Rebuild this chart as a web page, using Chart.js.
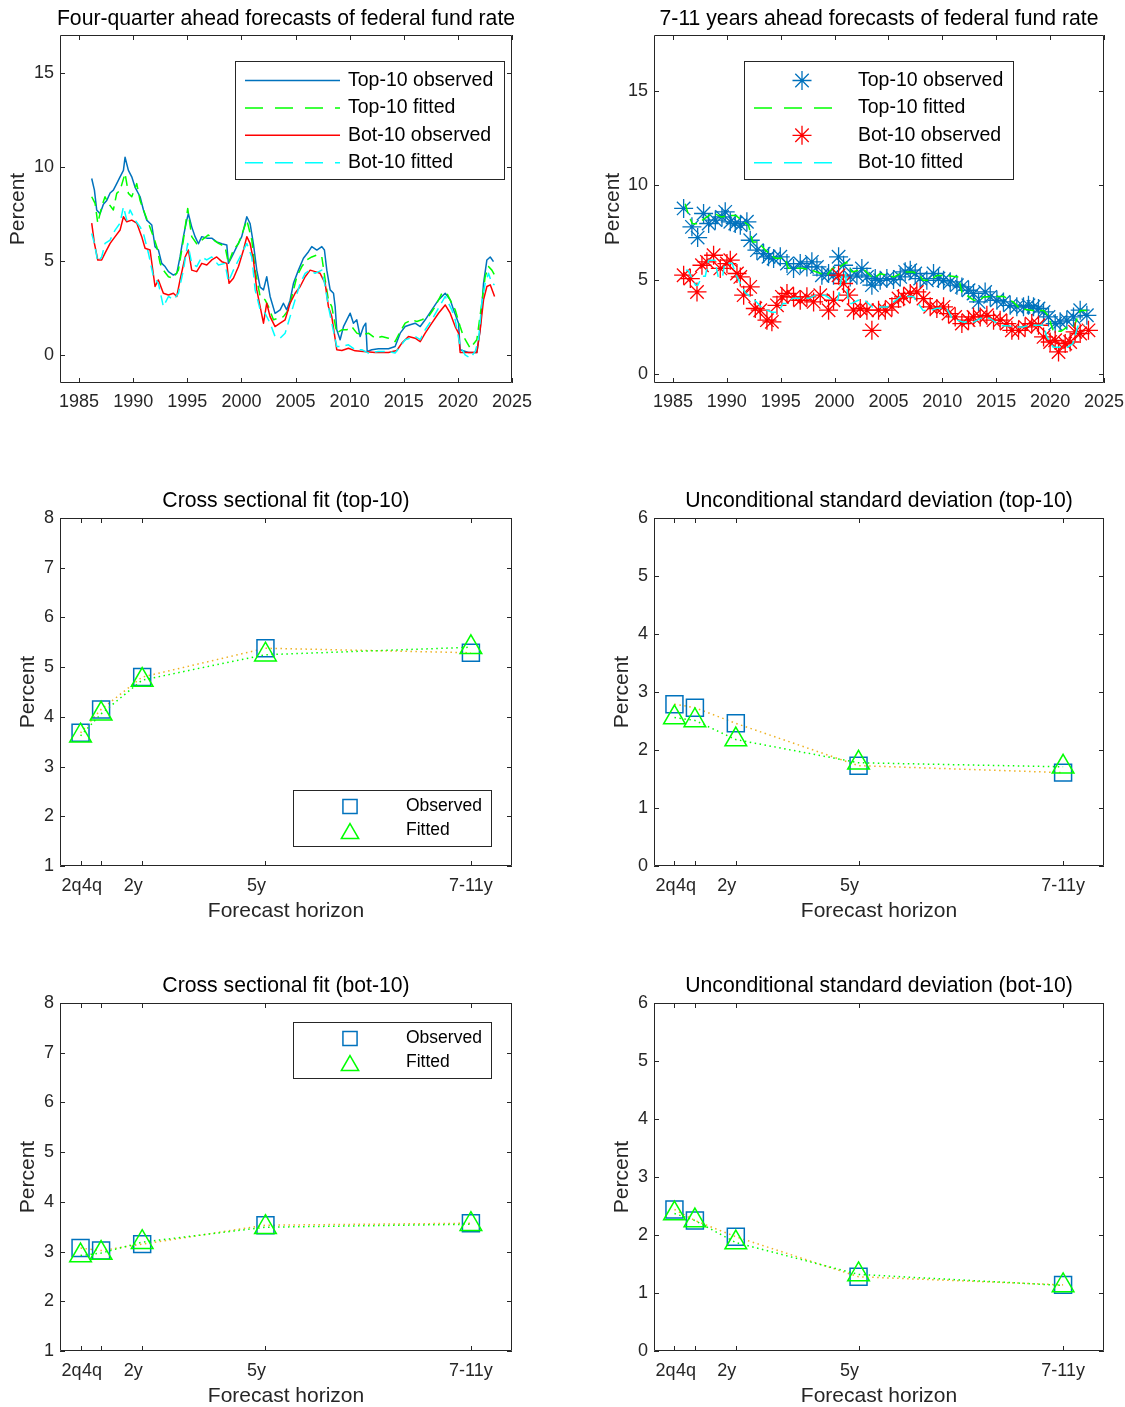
<!DOCTYPE html>
<html>
<head>
<meta charset="utf-8">
<title>Federal fund rate forecasts: top-10 vs bottom-10</title>
<script src="https://cdn.jsdelivr.net/npm/chart.js@4.4.1/dist/chart.umd.min.js"></script>
<style>
  html, body { margin: 0; background: #fff; overflow: hidden; }
  canvas { position: absolute; }
</style>
</head>
<body>
<canvas id="c1"></canvas>
<canvas id="c2"></canvas>
<canvas id="c3"></canvas>
<canvas id="c4"></canvas>
<canvas id="c5"></canvas>
<canvas id="c6"></canvas>
<script>
// ---- four-quarter ahead forecasts (percent) ----
const q4Top10ObsYear = [1986.17,1986.42,1986.63,1986.94,1987.25,1987.56,1987.87,1988.17,1988.48,1988.79,1989.10,1989.25,1989.56,1989.87,1990.18,1990.64,1990.95,1991.25,1991.72,1992.02,1992.33,1992.64,1992.95,1993.26,1993.72,1994.03,1994.33,1994.64,1994.95,1995.10,1995.41,1995.72,1996.03,1996.34,1996.80,1997.26,1997.72,1998.19,1998.65,1998.80,1999.11,1999.57,2000.03,2000.50,2000.80,2001.11,2001.42,2001.73,2002.04,2002.34,2002.65,2003.11,2003.58,2003.88,2004.19,2004.50,2004.81,2005.27,2005.73,2006.20,2006.50,2006.97,2007.43,2007.67,2007.89,2008.20,2008.51,2008.66,2008.81,2009.12,2009.43,2009.74,2010.05,2010.35,2010.66,2010.97,2011.28,2011.49,2011.62,2012.05,2012.66,2013.59,2014.20,2014.67,2015.13,2015.59,2016.05,2016.52,2016.98,2017.59,2018.21,2018.83,2019.29,2019.60,2020.06,2020.21,2020.98,2021.75,2022.06,2022.37,2022.68,2022.99,2023.29];
const q4Top10ObsRate = [9.37,8.75,7.7,7.5,8.0,8.2,8.6,8.75,9.1,9.46,9.8,10.5,9.8,9.46,8.9,8.4,7.7,7.16,6.9,5.75,5.57,4.86,4.69,4.42,4.24,4.33,5.2,6.28,7.16,7.5,6.8,6.28,5.9,6.28,6.2,6.2,6.0,5.9,5.84,4.86,5.2,5.75,6.28,7.34,6.98,5.9,4.5,3.6,3.45,4.15,3.1,2.2,2.39,2.74,2.39,2.9,3.8,4.5,5.13,5.48,5.75,5.57,5.75,5.57,4.5,3.45,3.27,2.56,1.33,0.8,1.5,1.86,2.21,1.68,1.86,0.97,1.5,1.68,0.18,0.27,0.32,0.32,0.44,1.15,1.5,1.6,1.68,1.5,1.86,2.39,2.92,3.27,2.92,2.39,1.68,0.27,0.12,0.12,1.33,3.8,5.04,5.2,4.95];

const q4Top10FitYear = [1986.17,1986.48,1986.73,1987.09,1987.40,1987.71,1988.17,1988.48,1988.79,1989.25,1989.56,1989.87,1990.33,1990.64,1990.95,1991.41,1991.87,1992.18,1992.49,1992.79,1993.26,1993.72,1994.18,1994.64,1995.04,1995.41,1995.87,1996.34,1996.95,1997.42,1997.88,1998.49,1998.80,1999.26,1999.73,2000.19,2000.50,2000.96,2001.27,2001.73,2002.19,2002.50,2002.96,2003.42,2003.88,2004.35,2004.66,2005.12,2005.58,2006.04,2006.50,2006.97,2007.43,2007.74,2008.04,2008.35,2008.81,2009.28,2009.74,2010.20,2010.66,2011.12,2011.74,2012.36,2012.97,2013.59,2014.20,2014.67,2015.13,2015.75,2016.21,2016.67,2017.29,2017.90,2018.52,2018.98,2019.44,2019.75,2020.21,2020.52,2021.14,2021.75,2022.21,2022.52,2022.83,2023.14,2023.39];
const q4Top10FitRate = [8.4,8.05,7.0,7.87,8.4,8.05,7.7,8.58,8.75,9.64,8.58,8.4,9.1,8.2,7.7,7.0,6.28,5.75,4.86,4.5,4.15,4.07,4.5,6.1,7.78,6.28,5.9,6.1,6.37,6.1,5.92,5.75,4.86,5.57,5.92,6.63,7.16,6.1,4.5,3.1,2.92,2.56,1.86,1.95,2.03,2.39,3.1,4.15,4.69,5.04,5.2,5.3,5.2,3.98,2.92,2.56,1.15,1.33,1.33,1.5,1.15,1.06,1.15,0.88,0.97,0.88,0.7,1.24,1.68,1.86,1.77,1.86,2.03,2.56,3.27,3.27,2.74,2.39,1.5,0.97,0.35,0.8,2.74,4.15,4.69,4.5,4.24];

const q4Bot10ObsYear = [1986.17,1986.42,1986.73,1987.09,1987.40,1987.87,1988.33,1988.79,1989.10,1989.41,1989.87,1990.33,1990.79,1991.10,1991.56,1992.02,1992.33,1992.79,1993.26,1993.72,1994.03,1994.33,1994.80,1995.10,1995.41,1995.87,1996.34,1996.80,1997.26,1997.72,1998.19,1998.65,1998.86,1999.26,1999.73,2000.19,2000.50,2000.80,2001.11,2001.42,2001.73,2002.04,2002.34,2002.65,2003.11,2003.58,2004.04,2004.50,2004.96,2005.43,2005.89,2006.35,2006.81,2007.27,2007.74,2008.04,2008.35,2008.81,2009.28,2009.89,2010.51,2011.28,2012.36,2013.59,2014.36,2014.82,2015.44,2016.05,2016.52,2016.98,2017.59,2018.21,2018.83,2019.29,2019.75,2020.06,2020.21,2021.75,2022.06,2022.37,2022.68,2022.99,2023.39];
const q4Bot10ObsRate = [7.0,5.92,5.04,5.04,5.4,5.92,6.28,6.63,7.34,7.07,7.16,7.0,6.28,5.66,5.57,3.63,3.98,3.27,3.18,3.27,3.1,3.98,5.2,5.57,4.5,4.42,4.86,4.77,5.04,5.2,4.95,4.86,3.8,4.07,4.69,5.57,6.28,5.92,5.04,3.45,2.56,1.68,2.74,2.03,1.5,1.68,1.86,2.74,3.27,3.63,4.15,4.5,4.42,4.33,3.8,2.56,2.03,0.27,0.23,0.35,0.21,0.18,0.12,0.12,0.23,0.62,0.97,0.88,0.7,1.15,1.68,2.21,2.65,2.21,1.5,1.15,0.12,0.12,1.33,2.92,3.63,3.72,3.1];

const q4Bot10FitYear = [1986.17,1986.42,1986.73,1987.09,1987.40,1987.87,1988.33,1988.79,1989.10,1989.41,1989.71,1990.18,1990.64,1990.95,1991.41,1991.87,1992.33,1992.79,1993.26,1993.72,1994.18,1994.64,1995.04,1995.41,1995.87,1996.34,1996.80,1997.26,1997.88,1998.49,1998.80,1999.26,1999.73,2000.19,2000.50,2000.96,2001.27,2001.73,2002.19,2002.65,2003.11,2003.58,2004.04,2004.50,2004.96,2005.43,2005.89,2006.35,2006.81,2007.43,2007.74,2008.04,2008.35,2008.81,2009.28,2009.89,2010.51,2011.12,2011.74,2012.66,2013.59,2014.20,2014.67,2015.13,2015.59,2016.05,2016.52,2016.98,2017.59,2018.21,2018.83,2019.44,2019.75,2020.21,2020.67,2021.14,2021.60,2021.91,2022.21,2022.52,2022.83,2023.14,2023.39];
const q4Bot10FitRate = [6.45,5.92,4.95,5.2,5.92,6.1,6.63,7.0,7.87,7.16,7.7,7.16,6.8,6.45,5.4,4.15,3.8,2.56,3.1,2.92,3.27,4.5,5.92,4.86,4.69,5.2,5.04,5.2,4.77,4.86,3.89,4.5,5.04,5.57,5.92,5.2,3.45,2.39,2.21,1.68,0.97,0.88,1.15,2.03,2.92,3.8,4.33,4.5,4.33,4.5,3.63,2.56,1.68,0.44,0.44,0.53,0.27,0.27,0.09,0.18,0.18,0.09,0.44,0.8,0.88,0.97,0.8,1.33,1.86,2.48,3.1,2.39,1.86,0.44,0.0,-0.18,0.18,0.8,2.74,3.8,4.33,3.8,3.72];

// ---- 7-11 years ahead forecasts (percent) ----
const lrTop10ObsYear = [1985.99,1986.76,1987.29,1987.84,1988.31,1988.93,1989.55,1989.85,1990.32,1990.78,1991.25,1991.86,1992.17,1992.79,1993.41,1993.87,1994.34,1994.96,1995.58,1996.19,1996.81,1997.43,1997.89,1998.36,1998.82,1999.44,1999.90,2000.37,2000.83,2001.45,2002.07,2002.53,2003.00,2003.46,2003.77,2004.23,2004.85,2005.47,2006.09,2006.55,2007.02,2007.48,2007.94,2008.56,2009.18,2009.64,2010.11,2010.73,2011.35,2011.81,2012.43,2012.89,2013.36,2013.97,2014.44,2015.06,2015.67,2016.29,2016.91,2017.53,2017.99,2018.46,2018.92,2019.39,2019.85,2020.47,2020.93,2021.55,2022.17,2022.79,2023.41];
const lrTop10ObsRate = [8.78,7.80,7.23,8.51,7.98,8.16,8.33,8.60,8.07,7.98,7.89,8.07,7.09,6.56,6.38,6.21,6.12,6.21,5.85,5.59,5.85,5.67,5.94,5.67,5.23,5.32,5.23,6.21,5.76,5.14,5.23,5.59,5.14,4.70,5.05,4.96,5.05,5.00,5.14,5.41,5.50,5.32,5.05,4.96,5.32,5.05,4.96,4.88,4.70,4.61,4.43,4.26,3.81,4.34,4.08,3.90,3.81,3.63,3.55,3.55,3.63,3.55,3.46,3.28,3.01,2.66,2.75,2.84,3.01,3.37,3.10];

const lrTop10FitYear = [1986.14,1986.45,1986.8,1987.3,1987.7,1988.6,1988.9,1989.5,1990.1,1990.8,1991.4,1992.0,1992.4,1992.9,1993.6,1994.5,1995.4,1995.7,1997.0,1997.9,1998.7,1999.3,1999.8,2000.3,2001.1,2001.6,2002.2,2002.8,2003.6,2004.2,2004.9,2005.5,2006.4,2007.3,2007.9,2008.2,2008.9,2009.5,2010.4,2011.5,2011.8,2012.9,2013.5,2013.8,2014.7,2015.7,2016.6,2017.2,2018.4,2019.4,2019.8,2020.3,2021.0,2021.6,2022.2,2022.8,2023.4];
const lrTop10FitRate = [9.03,8.41,7.97,7.97,8.15,8.5,8.5,8.32,8.41,8.41,8.15,7.9,7.0,7.0,6.55,6.13,6.13,5.6,5.6,5.49,5.32,5.23,5.6,5.6,5.93,5.4,5.49,5.49,5.05,5.31,5.23,5.14,5.4,5.4,5.23,4.96,4.96,5.22,5.22,5.13,4.34,3.9,3.9,4.07,4.1,4.1,3.8,3.45,3.36,3.36,3.1,2.25,2.25,2.48,2.48,3.36,3.36];

const lrBot10ObsYear = [1985.99,1986.61,1987.23,1987.69,1988.15,1988.77,1989.39,1990.01,1990.32,1990.94,1991.25,1991.56,1992.17,1992.64,1993.10,1993.72,1994.18,1994.65,1995.11,1995.58,1996.19,1996.81,1997.43,1998.05,1998.67,1999.44,1999.90,2000.37,2000.83,2001.30,2001.76,2002.38,2003.00,2003.46,2004.08,2004.70,2005.32,2005.93,2006.40,2007.02,2007.63,2008.25,2008.87,2009.49,2010.11,2010.57,2011.19,2011.81,2012.43,2012.89,2013.51,2014.13,2014.75,2015.36,2015.98,2016.45,2017.07,2017.68,2018.30,2018.92,2019.39,2020.00,2020.47,2020.78,2021.40,2021.86,2022.32,2022.79,2023.56];
const lrBot10ObsRate = [5.23,5.05,4.34,5.76,5.94,6.29,5.59,5.85,6.03,5.32,5.14,4.17,4.61,3.46,3.37,2.84,2.75,3.63,4.08,4.26,4.08,3.90,4.08,3.81,4.17,3.37,3.90,5.23,4.79,4.17,3.37,3.46,3.37,2.30,3.37,3.37,3.55,3.99,4.08,4.26,4.34,3.99,3.55,3.46,3.55,3.19,3.01,2.66,2.84,3.01,3.01,3.10,2.84,2.84,2.66,2.30,2.30,2.48,2.66,2.57,1.95,1.68,1.77,1.15,1.60,1.68,2.22,2.13,2.30];

const lrBot10FitYear = [1986.2,1986.4,1987.1,1987.3,1987.7,1988.0,1988.3,1988.9,1989.2,1989.6,1989.8,1990.5,1990.8,1991.7,1992.6,1993.3,1994.2,1994.8,1995.2,1995.7,1996.1,1997.6,1998.2,1999.1,1999.8,2000.3,2000.7,2001.0,2001.3,2001.6,2002.2,2002.8,2003.5,2004.4,2004.9,2006.1,2007.3,2008.2,2008.9,2009.5,2010.4,2010.9,2011.9,2012.9,2013.5,2014.4,2015.4,2016.0,2016.6,2017.5,2018.1,2019.4,2019.7,2020.3,2021.6,2022.1,2022.6,2023.2];
const lrBot10FitRate = [5.49,5.49,4.69,4.69,5.17,5.17,6.02,6.02,5.13,5.13,5.86,5.86,5.31,4.3,3.9,3.47,3.26,3.26,3.73,3.73,4.0,4.0,4.16,4.16,3.9,3.9,5.33,5.33,3.73,3.73,3.9,3.9,3.54,3.54,3.54,4.1,4.1,3.36,3.36,3.47,3.47,2.94,2.74,2.74,2.94,2.94,2.55,2.55,2.48,2.48,2.57,2.57,1.94,1.4,1.4,1.59,2.57,2.57];

const yearTicks = [1985, 1990, 1995, 2000, 2005, 2010, 2015, 2020, 2025];
const rateTicks = [0, 5, 10, 15];

// ---- cross section by forecast horizon ----
const horizonYears = [0.5, 1, 2, 5, 10];
const horizonLabels = ['2q', '4q', '2y', '5y', '7-11y'];
const top10MeanObs = [3.68, 4.15, 4.80, 5.38, 5.29];
const top10MeanFit = [3.62, 4.06, 4.74, 5.25, 5.40];
const top10SdObs = [2.79, 2.73, 2.46, 1.73, 1.61];
const top10SdFit = [2.56, 2.51, 2.18, 1.78, 1.71];
const bot10MeanObs = [3.07, 3.02, 3.15, 3.53, 3.57];
const bot10MeanFit = [2.92, 2.97, 3.19, 3.49, 3.55];
const bot10SdObs = [2.44, 2.25, 1.97, 1.28, 1.14];
const bot10SdFit = [2.37, 2.25, 1.87, 1.32, 1.13];
const meanTicks = [1, 2, 3, 4, 5, 6, 7, 8];
const sdTicks = [0, 1, 2, 3, 4, 5, 6];

const FONT = "'Liberation Sans', Arial, Helvetica, sans-serif";
const AXIS = '#262626';
const BLUE = '#0072BD', GREEN = '#00FF00', RED = '#FF0000', CYAN = '#00FFFF', ORANGE = '#EDB120';

function pts(xs, ys) { return xs.map((x, i) => ({ x, y: ys[i] })); }

// box, inward ticks on all sides and the title, MATLAB style
const framePlugin = {
  id: 'frame',
  afterDraw(chart, args, o) {
    const { ctx, chartArea: a } = chart;
    const sx = chart.scales.x, sy = chart.scales.y;
    ctx.save();
    ctx.strokeStyle = AXIS;
    ctx.lineWidth = 1;
    ctx.beginPath();
    ctx.rect(a.left + 0.5, a.top + 0.5, a.right - a.left - 1, a.bottom - a.top - 1);
    sx.ticks.forEach(t => {
      const p = Math.round(sx.getPixelForValue(t.value)) + 0.5;
      ctx.moveTo(p, a.bottom); ctx.lineTo(p, a.bottom - 5);
      ctx.moveTo(p, a.top); ctx.lineTo(p, a.top + 5);
    });
    sy.ticks.forEach(t => {
      const p = Math.round(sy.getPixelForValue(t.value)) + 0.5;
      ctx.moveTo(a.left, p); ctx.lineTo(a.left + 5, p);
      ctx.moveTo(a.right, p); ctx.lineTo(a.right - 5, p);
    });
    ctx.stroke();
    if (o.title) {
      ctx.fillStyle = '#000';
      ctx.font = '21.2px ' + FONT;
      ctx.textAlign = 'center';
      ctx.textBaseline = 'middle';
      ctx.fillText(o.title, (a.left + a.right) / 2, o.titleY);
    }
    ctx.restore();
  }
};

// boxed legend placed inside the axes
const boxLegendPlugin = {
  id: 'boxLegend',
  afterDraw(chart, args, o) {
    if (!o || !o.display) return;
    const { ctx, chartArea: a } = chart;
    const x0 = a.left + o.left, y0 = a.top + o.top;
    ctx.save();
    ctx.fillStyle = '#fff';
    ctx.fillRect(x0, y0, o.width, o.height);
    ctx.strokeStyle = AXIS;
    ctx.lineWidth = 1;
    ctx.strokeRect(x0 + 0.5, y0 + 0.5, o.width, o.height);
    chart.data.datasets.forEach((ds, i) => {
      const y = y0 + o.rowTop + i * o.rowGap;
      if (ds.legendDash) {
        ctx.save();
        ctx.strokeStyle = ds.borderColor;
        ctx.lineWidth = 1.5;
        ctx.setLineDash(ds.legendDash);
        ctx.beginPath();
        ctx.moveTo(x0 + o.lineFrom, y);
        ctx.lineTo(x0 + o.lineTo, y);
        ctx.stroke();
        ctx.restore();
      } else {
        ctx.save();
        ctx.strokeStyle = ds.pointBorderColor;
        ctx.fillStyle = 'rgba(0,0,0,0)';
        ctx.lineWidth = ds.pointBorderWidth;
        Chart.helpers.drawPoint(ctx, {
          pointStyle: ds.pointStyle, radius: o.markerRadius || ds.pointRadius,
          rotation: 0, borderWidth: ds.pointBorderWidth
        }, x0 + o.markerX, y + (ds.pointStyle === 'triangle' ? 3 : 0));
        ctx.restore();
      }
      ctx.fillStyle = '#000';
      ctx.font = o.fontSize + 'px ' + FONT;
      ctx.textAlign = 'left';
      ctx.textBaseline = 'middle';
      ctx.fillText(ds.label, x0 + o.textX, y);
    });
    ctx.restore();
  }
};

Chart.register(framePlugin, boxLegendPlugin);

function makePanel(id, g, cfg) {
  const cv = document.getElementById(id);
  cv.width = g.cw; cv.height = g.ch;
  cv.style.left = g.cx + 'px';
  cv.style.top = g.cy + 'px';
  const tickFont = { family: FONT, size: 18 };
  const axisTitleFont = { family: FONT, size: 21 };
  cfg.datasets.forEach((d, i) => { d.order = cfg.datasets.length - i; });
  return new Chart(cv, {
    type: 'scatter',
    data: { datasets: cfg.datasets },
    options: {
      responsive: false,
      animation: false,
      devicePixelRatio: 1,
      events: [],
      layout: { padding: { left: 0, top: g.top - g.cy, right: g.cx + g.cw - g.right, bottom: 0 } },
      plugins: {
        legend: { display: false },
        tooltip: { enabled: false },
        frame: { title: cfg.title, titleY: cfg.titleY },
        boxLegend: cfg.legend
      },
      scales: {
        x: {
          type: 'linear', min: cfg.xMin, max: cfg.xMax,
          afterBuildTicks: s => { s.ticks = cfg.xTicks.map(v => ({ value: v })); },
          afterFit: s => {
            s.height = g.cy + g.ch - g.bottom;
            s.paddingLeft = s.paddingRight = s.paddingTop = s.paddingBottom = 0;
          },
          grid: { display: false, drawTicks: false },
          border: { display: false },
          ticks: {
            font: tickFont, color: AXIS, padding: cfg.xPad, maxRotation: 0, autoSkip: false,
            // the short horizon labels sit left of their tick, as in the source figure
            callback: (v, i) => cfg.xLabels
              ? cfg.xLabels[i] + (i < cfg.xLabels.length - 1 ? '\u2002\u2002' : '')
              : String(v)
          },
          title: cfg.xTitle
            ? { display: true, text: cfg.xTitle, color: AXIS, font: axisTitleFont, padding: { top: 0, bottom: 0 } }
            : { display: false }
        },
        y: {
          type: 'linear', min: cfg.yMin, max: cfg.yMax,
          afterBuildTicks: s => { s.ticks = cfg.yTicks.map(v => ({ value: v })); },
          afterFit: s => {
            s.width = g.left - g.cx;
            s.paddingLeft = s.paddingRight = s.paddingTop = s.paddingBottom = 0;
          },
          grid: { display: false, drawTicks: false },
          border: { display: false },
          ticks: { font: tickFont, color: AXIS, padding: 6, autoSkip: false, callback: v => String(v) },
          title: { display: true, text: 'Percent', color: AXIS, font: axisTitleFont, padding: { top: cfg.yTitlePad, bottom: 0 } }
        }
      }
    }
  });
}

function lineSet(label, xs, ys, color, dashed) {
  return {
    label, data: pts(xs, ys), showLine: true, borderColor: color, borderWidth: 1.5,
    borderDash: dashed ? [10, 6] : [], borderJoinStyle: 'round', pointRadius: 0,
    legendDash: dashed ? [18, 12] : [1000]
  };
}
function starSet(label, xs, ys, color) {
  return {
    label, data: pts(xs, ys), showLine: false, pointStyle: 'star', pointRadius: 9.5,
    pointBorderColor: color, pointBackgroundColor: color, pointBorderWidth: 1.3, borderColor: color
  };
}
function horizonSets(obs, fit) {
  return [
    { label: 'Observed', data: pts(horizonYears, obs), showLine: true, borderColor: ORANGE, borderWidth: 1.5,
      borderDash: [1.5, 3.5], pointStyle: 'rect', pointRadius: 12, pointBorderColor: BLUE,
      pointBackgroundColor: 'rgba(0,0,0,0)', pointBorderWidth: 1.5 },
    { label: 'Fitted', data: pts(horizonYears, fit), showLine: true, borderColor: GREEN, borderWidth: 1.5,
      borderDash: [1.5, 3.5], pointStyle: 'triangle', pointRadius: 12.5, pointBorderColor: GREEN,
      pointBackgroundColor: 'rgba(0,0,0,0)', pointBorderWidth: 1.5 }
  ];
}

const timeAxis = { xMin: 1983.24, xMax: 2025, xTicks: yearTicks, xPad: 8 };
const horizonAxis = { xMin: 0, xMax: 11, xTicks: horizonYears, xLabels: horizonLabels, xPad: 9, xTitle: 'Forecast horizon' };
const topLegend = { display: true, top: 26, width: 269, height: 118, rowTop: 19.5, rowGap: 27.4, lineFrom: 10, lineTo: 105, textX: 113, fontSize: 19.5 };

makePanel('c1', { cx: 0, cy: 0, cw: 545, ch: 423, left: 60, top: 35, right: 512, bottom: 383 }, Object.assign({
  title: 'Four-quarter ahead forecasts of federal fund rate', titleY: 19,
  yMin: -1.5, yMax: 17, yTicks: rateTicks, yTitlePad: 6,
  legend: Object.assign({}, topLegend, { left: 175 }),
  datasets: [
    lineSet('Top-10 observed', q4Top10ObsYear, q4Top10ObsRate, BLUE, false),
    lineSet('Top-10 fitted', q4Top10FitYear, q4Top10FitRate, GREEN, true),
    lineSet('Bot-10 observed', q4Bot10ObsYear, q4Bot10ObsRate, RED, false),
    lineSet('Bot-10 fitted', q4Bot10FitYear, q4Bot10FitRate, CYAN, true)
  ]
}, timeAxis));

makePanel('c2', { cx: 590, cy: 0, cw: 535, ch: 423, left: 654, top: 35, right: 1104, bottom: 383 }, Object.assign({
  title: '7-11 years ahead forecasts of federal fund rate', titleY: 19,
  yMin: -0.5, yMax: 18, yTicks: rateTicks, yTitlePad: 11,
  legend: Object.assign({}, topLegend, { left: 90, lineFrom: 10, lineTo: 94, textX: 114, markerX: 58 }),
  datasets: [
    starSet('Top-10 observed', lrTop10ObsYear, lrTop10ObsRate, BLUE),
    lineSet('Top-10 fitted', lrTop10FitYear, lrTop10FitRate, GREEN, true),
    starSet('Bot-10 observed', lrBot10ObsYear, lrBot10ObsRate, RED),
    lineSet('Bot-10 fitted', lrBot10FitYear, lrBot10FitRate, CYAN, true)
  ]
}, timeAxis));

const lowLegend = { display: true, left: 233, width: 198, height: 56, rowTop: 16.5, rowGap: 24, markerX: 57, textX: 113, fontSize: 17.5, markerRadius: 10 };

makePanel('c3', { cx: 0, cy: 483, cw: 545, ch: 441, left: 60, top: 518, right: 512, bottom: 866 }, Object.assign({
  title: 'Cross sectional fit (top-10)', titleY: 18.5,
  yMin: 1, yMax: 8, yTicks: meanTicks, yTitlePad: 16,
  legend: Object.assign({}, lowLegend, { top: 272 }),
  datasets: horizonSets(top10MeanObs, top10MeanFit)
}, horizonAxis));

makePanel('c4', { cx: 590, cy: 483, cw: 535, ch: 441, left: 654, top: 518, right: 1104, bottom: 866 }, Object.assign({
  title: 'Unconditional standard deviation (top-10)', titleY: 18.5,
  yMin: 0, yMax: 6, yTicks: sdTicks, yTitlePad: 20,
  legend: { display: false },
  datasets: horizonSets(top10SdObs, top10SdFit)
}, horizonAxis));

makePanel('c5', { cx: 0, cy: 968, cw: 545, ch: 441, left: 60, top: 1003, right: 512, bottom: 1351 }, Object.assign({
  title: 'Cross sectional fit (bot-10)', titleY: 18.5,
  yMin: 1, yMax: 8, yTicks: meanTicks, yTitlePad: 16,
  legend: Object.assign({}, lowLegend, { top: 19 }),
  datasets: horizonSets(bot10MeanObs, bot10MeanFit)
}, horizonAxis));

makePanel('c6', { cx: 590, cy: 968, cw: 535, ch: 441, left: 654, top: 1003, right: 1104, bottom: 1351 }, Object.assign({
  title: 'Unconditional standard deviation (bot-10)', titleY: 18.5,
  yMin: 0, yMax: 6, yTicks: sdTicks, yTitlePad: 20,
  legend: { display: false },
  datasets: horizonSets(bot10SdObs, bot10SdFit)
}, horizonAxis));
</script>
</body>
</html>
